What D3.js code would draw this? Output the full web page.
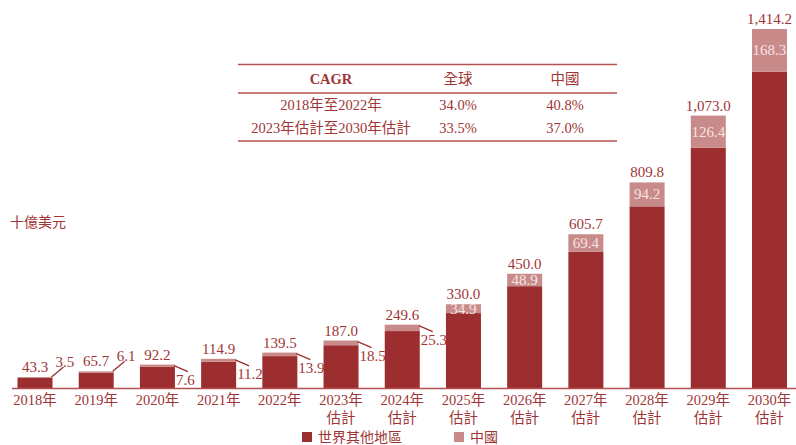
<!DOCTYPE html>
<html>
<head>
<meta charset="utf-8">
<script src="https://cdn.jsdelivr.net/npm/d3@7"></script>
<style>
  body { margin: 0; background: #fff; }
  text { font-family: "Liberation Serif", "Noto Sans CJK TC", serif; }
</style>
</head>
<body>
<script>
// chart data
const years = ["2018年", "2019年", "2020年", "2021年", "2022年", "2023年估計", "2024年估計",
  "2025年估計", "2026年估計", "2027年估計", "2028年估計", "2029年估計", "2030年估計"];
const globalTotal = [43.3, 65.7, 92.2, 114.9, 139.5, 187.0, 249.6, 330.0, 450.0, 605.7, 809.8, 1073.0, 1414.2];
const china = [3.5, 6.1, 7.6, 11.2, 13.9, 18.5, 25.3, 34.9, 48.9, 69.4, 94.2, 126.4, 168.3];
// where china label goes: "up", "down" (outside with leader line), "in" (inside segment)
const chinaLabelPos = ["up", "up", "down", "down", "down", "down", "down", "in", "in", "in", "in", "in", "in"];

const tableHeader = ["CAGR", "全球", "中國"];
const tableRows = [
  ["2018年至2022年", "34.0%", "40.8%"],
  ["2023年估計至2030年估計", "33.5%", "37.0%"]
];
const legendNames = ["世界其他地區", "中國"];

const width = 796, height = 445;
const baseY = 388;
const darkRed = "#9c2e2f", lightRed = "#c98a8a", textRed = "#a03536";

let svg = d3.select("body").append("svg")
  .attr("width", width)
  .attr("height", height);

const x = d3.scaleBand()
  .domain(years)
  .range([4.4, 800.1])
  .paddingInner(0.428)
  .paddingOuter(0.214);

const y = d3.scaleLinear()
  .domain([0, 1414.2])
  .range([baseY, 29]);

const data = years.map((yr, i) => ({
  year: yr, total: globalTotal[i], china: china[i], rest: globalTotal[i] - china[i], pos: chinaLabelPos[i]
}));

// rest of world bars
svg.selectAll("rect.rest")
  .data(data)
  .enter()
  .append("rect")
  .attr("class", "rest")
  .attr("x", d => x(d.year))
  .attr("y", d => y(d.rest))
  .attr("width", x.bandwidth())
  .attr("height", d => baseY - y(d.rest))
  .attr("fill", darkRed);

// china bars on top
svg.selectAll("rect.china")
  .data(data)
  .enter()
  .append("rect")
  .attr("class", "china")
  .attr("x", d => x(d.year))
  .attr("y", d => y(d.total))
  .attr("width", x.bandwidth())
  .attr("height", d => y(d.rest) - y(d.total))
  .attr("fill", lightRed);

// baseline
svg.append("line")
  .attr("x1", 12).attr("x2", width)
  .attr("y1", baseY + 0.5).attr("y2", baseY + 0.5)
  .attr("stroke", "#b5514f")
  .attr("stroke-width", 1.3);

// total labels
svg.selectAll("text.total")
  .data(data)
  .enter()
  .append("text")
  .attr("class", "total")
  .attr("x", d => x(d.year) + x.bandwidth() / 2)
  .attr("y", d => y(d.total) - 5)
  .attr("text-anchor", "middle")
  .attr("font-size", 15)
  .attr("fill", textRed)
  .text(d => d3.format(",.1f")(d.total));

// china labels inside segment
svg.selectAll("text.chinaIn")
  .data(data.filter(d => d.pos === "in"))
  .enter()
  .append("text")
  .attr("class", "chinaIn")
  .attr("x", d => x(d.year) + x.bandwidth() / 2)
  .attr("y", d => (y(d.total) + y(d.rest)) / 2 + 5)
  .attr("text-anchor", "middle")
  .attr("font-size", 15)
  .attr("fill", "#f6e4e4")
  .text(d => d.china.toFixed(1));

// china labels outside with leader lines
const outside = data.filter(d => d.pos !== "in");
svg.selectAll("line.leader")
  .data(outside)
  .enter()
  .append("line")
  .attr("class", "leader")
  .attr("x1", d => x(d.year) + x.bandwidth() - 1)
  .attr("y1", d => y(d.total) + (d.pos === "up" ? 0 : 1))
  .attr("x2", d => x(d.year) + x.bandwidth() + (d.pos === "up" ? 11 : 13))
  .attr("y2", d => y(d.total) + (d.pos === "up" ? -10 : 7))
  .attr("stroke", darkRed)
  .attr("stroke-width", 1.3);

svg.selectAll("text.chinaOut")
  .data(outside)
  .enter()
  .append("text")
  .attr("class", "chinaOut")
  .attr("x", d => x(d.year) + x.bandwidth() + (d.pos === "up" ? 3 : 1))
  .attr("y", d => y(d.total) + (d.pos === "up" ? -10 : 20))
  .attr("font-size", 15)
  .attr("fill", textRed)
  .text(d => d.china.toFixed(1));

// x axis labels (two lines)
const xl = svg.selectAll("text.xlab")
  .data(years)
  .enter()
  .append("text")
  .attr("class", "xlab")
  .attr("x", d => x(d) + x.bandwidth() / 2)
  .attr("y", 405)
  .attr("text-anchor", "middle")
  .attr("font-size", 14.5)
  .attr("fill", textRed);
xl.append("tspan")
  .attr("x", d => x(d) + x.bandwidth() / 2)
  .text(d => d.slice(0, 5));
xl.filter(d => d.length > 5).append("tspan")
  .attr("x", d => x(d) + x.bandwidth() / 2)
  .attr("dy", 18)
  .text(d => d.slice(5));

// unit label
svg.append("text")
  .attr("x", 10)
  .attr("y", 227)
  .attr("font-size", 14)
  .attr("fill", textRed)
  .text("十億美元");

// CAGR table
const colX = [331, 458, 565];
const tLeft = 238, tRight = 617;
[64.5, 93, 141].forEach(ly => {
  svg.append("line")
    .attr("x1", tLeft).attr("x2", tRight)
    .attr("y1", ly).attr("y2", ly)
    .attr("stroke", "#b5514f")
    .attr("stroke-width", 1.5);
});
tableHeader.forEach((h, i) => {
  svg.append("text")
    .attr("x", colX[i])
    .attr("y", 84)
    .attr("text-anchor", "middle")
    .attr("font-size", 14.5)
    .attr("font-weight", i === 0 ? "bold" : "normal")
    .attr("fill", textRed)
    .text(h);
});
tableRows.forEach((row, r) => {
  row.forEach((cell, i) => {
    svg.append("text")
      .attr("x", colX[i])
      .attr("y", 110 + r * 23)
      .attr("text-anchor", "middle")
      .attr("font-size", 14.5)
      .attr("fill", textRed)
      .text(cell);
  });
});

// legend
const legendX = [302, 454];
const legendColors = [darkRed, lightRed];
legendNames.forEach((name, i) => {
  svg.append("rect")
    .attr("x", legendX[i])
    .attr("y", 432)
    .attr("width", 10)
    .attr("height", 10)
    .attr("fill", legendColors[i]);
  svg.append("text")
    .attr("x", legendX[i] + 16)
    .attr("y", 442)
    .attr("font-size", 14)
    .attr("fill", textRed)
    .text(name);
});
</script>
</body>
</html>
